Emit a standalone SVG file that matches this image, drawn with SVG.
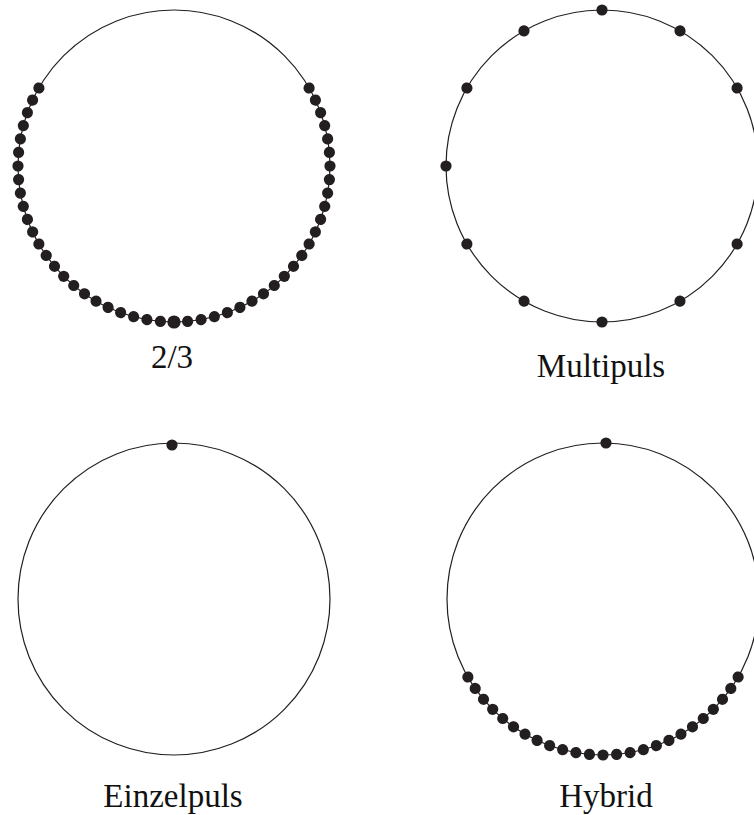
<svg xmlns="http://www.w3.org/2000/svg" xmlns:xlink="http://www.w3.org/1999/xlink" width="754" height="815" viewBox="0 0 754 815">
  <style>
    .ring { fill: none; stroke: #231f20; stroke-width: 1.2; }
    .dot { fill: #231f20; }
    .label { font-family: "Liberation Serif", "DejaVu Serif", serif; font-size: 33px; fill: #111; text-anchor: middle; }
  </style>
  <defs>
    <!-- a pulse marker sitting on the bottom of a radius-156 ring centred at the origin -->
    <circle id="d" class="dot" cx="0" cy="156" r="5.6"/>
  </defs>
  <rect width="754" height="815" fill="#fff"/>

  <!-- 2/3: pulses over 240 degrees, 5 degree pitch -->
  <g id="twothirds">
    <g transform="translate(174,166)">
      <circle class="ring" r="156"/>
      <use xlink:href="#d" transform="rotate(-120)"/><use xlink:href="#d" transform="rotate(-115)"/><use xlink:href="#d" transform="rotate(-110)"/><use xlink:href="#d" transform="rotate(-105)"/>
      <use xlink:href="#d" transform="rotate(-100)"/><use xlink:href="#d" transform="rotate(-95)"/><use xlink:href="#d" transform="rotate(-90)"/><use xlink:href="#d" transform="rotate(-85)"/>
      <use xlink:href="#d" transform="rotate(-80)"/><use xlink:href="#d" transform="rotate(-75)"/><use xlink:href="#d" transform="rotate(-70)"/><use xlink:href="#d" transform="rotate(-65)"/>
      <use xlink:href="#d" transform="rotate(-60)"/><use xlink:href="#d" transform="rotate(-55)"/><use xlink:href="#d" transform="rotate(-50)"/><use xlink:href="#d" transform="rotate(-45)"/>
      <use xlink:href="#d" transform="rotate(-40)"/><use xlink:href="#d" transform="rotate(-35)"/><use xlink:href="#d" transform="rotate(-30)"/><use xlink:href="#d" transform="rotate(-25)"/>
      <use xlink:href="#d" transform="rotate(-20)"/><use xlink:href="#d" transform="rotate(-15)"/><use xlink:href="#d" transform="rotate(-10)"/><use xlink:href="#d" transform="rotate(-5)"/>
      <circle class="dot" cx="0" cy="156" r="6.6"/>
      <use xlink:href="#d" transform="rotate(5)"/><use xlink:href="#d" transform="rotate(10)"/><use xlink:href="#d" transform="rotate(15)"/><use xlink:href="#d" transform="rotate(20)"/>
      <use xlink:href="#d" transform="rotate(25)"/><use xlink:href="#d" transform="rotate(30)"/><use xlink:href="#d" transform="rotate(35)"/><use xlink:href="#d" transform="rotate(40)"/>
      <use xlink:href="#d" transform="rotate(45)"/><use xlink:href="#d" transform="rotate(50)"/><use xlink:href="#d" transform="rotate(55)"/><use xlink:href="#d" transform="rotate(60)"/>
      <use xlink:href="#d" transform="rotate(65)"/><use xlink:href="#d" transform="rotate(70)"/><use xlink:href="#d" transform="rotate(75)"/><use xlink:href="#d" transform="rotate(80)"/>
      <use xlink:href="#d" transform="rotate(85)"/><use xlink:href="#d" transform="rotate(90)"/><use xlink:href="#d" transform="rotate(95)"/><use xlink:href="#d" transform="rotate(100)"/>
      <use xlink:href="#d" transform="rotate(105)"/><use xlink:href="#d" transform="rotate(110)"/><use xlink:href="#d" transform="rotate(115)"/><use xlink:href="#d" transform="rotate(120)"/>
    </g>
    <text class="label" x="172" y="368">2/3</text>
  </g>

  <!-- Multipuls: pulses at a 30 degree pitch (the one at 3 o'clock falls past the page edge) -->
  <g id="multipuls">
    <g transform="translate(602,166)">
      <circle class="ring" r="156"/>
      <use xlink:href="#d" transform="rotate(0)"/><use xlink:href="#d" transform="rotate(30)"/><use xlink:href="#d" transform="rotate(60)"/>
      <use xlink:href="#d" transform="rotate(90)"/><use xlink:href="#d" transform="rotate(120)"/><use xlink:href="#d" transform="rotate(150)"/>
      <use xlink:href="#d" transform="rotate(180)"/><use xlink:href="#d" transform="rotate(210)"/><use xlink:href="#d" transform="rotate(240)"/>
      <use xlink:href="#d" transform="rotate(300)"/><use xlink:href="#d" transform="rotate(330)"/>
    </g>
    <text class="label" x="601" y="377">Multipuls</text>
  </g>

  <!-- Einzelpuls: one pulse at the top -->
  <g id="einzelpuls">
    <g transform="translate(174,599)">
      <circle class="ring" r="156"/>
      <circle class="dot" cx="-2" cy="-154" r="5.6"/>
    </g>
    <text class="label" x="173" y="807">Einzelpuls</text>
  </g>

  <!-- Hybrid: top pulse plus a 120 degree run at the bottom -->
  <g id="hybrid">
    <g transform="translate(603,599)">
      <circle class="ring" r="156"/>
      <circle class="dot" cx="3" cy="-156" r="5.6"/>
      <use xlink:href="#d" transform="rotate(-60)"/><use xlink:href="#d" transform="rotate(-55)"/><use xlink:href="#d" transform="rotate(-50)"/><use xlink:href="#d" transform="rotate(-45)"/>
      <use xlink:href="#d" transform="rotate(-40)"/><use xlink:href="#d" transform="rotate(-35)"/><use xlink:href="#d" transform="rotate(-30)"/><use xlink:href="#d" transform="rotate(-25)"/>
      <use xlink:href="#d" transform="rotate(-20)"/><use xlink:href="#d" transform="rotate(-15)"/><use xlink:href="#d" transform="rotate(-10)"/><use xlink:href="#d" transform="rotate(-5)"/>
      <use xlink:href="#d" transform="rotate(0)"/>
      <use xlink:href="#d" transform="rotate(5)"/><use xlink:href="#d" transform="rotate(10)"/><use xlink:href="#d" transform="rotate(15)"/><use xlink:href="#d" transform="rotate(20)"/>
      <use xlink:href="#d" transform="rotate(25)"/><use xlink:href="#d" transform="rotate(30)"/><use xlink:href="#d" transform="rotate(35)"/><use xlink:href="#d" transform="rotate(40)"/>
      <use xlink:href="#d" transform="rotate(45)"/><use xlink:href="#d" transform="rotate(50)"/><use xlink:href="#d" transform="rotate(55)"/><use xlink:href="#d" transform="rotate(60)"/>
    </g>
    <text class="label" x="606" y="807">Hybrid</text>
  </g>

  <!-- no connectors in this figure -->
  <g id="connectors"/>
</svg>
